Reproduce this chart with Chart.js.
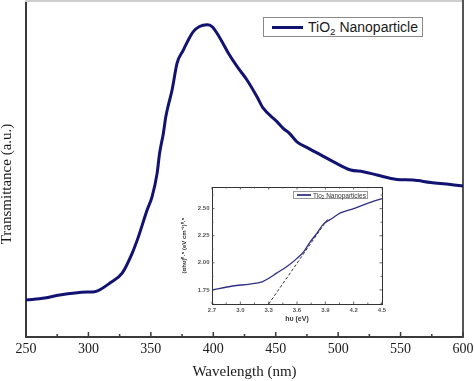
<!DOCTYPE html>
<html><head><meta charset="utf-8">
<script src="https://cdn.jsdelivr.net/npm/chart.js@4.4.0/dist/chart.umd.min.js"></script>
<style>
html,body{margin:0;padding:0;background:#fff;overflow:hidden;}
#wrap{position:relative;width:474px;height:381px;}
#main{position:absolute;left:0;top:0;}
#inset{position:absolute;left:178px;top:180px;}
.legend{position:absolute;background:#fff;box-sizing:border-box;display:flex;align-items:center;white-space:nowrap;}
.legend sub{font-size:70%;line-height:0;vertical-align:-0.3em;}
#mainLegend{left:263px;top:17px;width:160px;height:20px;border:1px solid #8a8a8a;font:14px "Liberation Sans",Arial,sans-serif;color:#1a1a1a;}
#mainLegend .sw{margin-left:8px;width:31px;height:3px;background:#121270;margin-right:5px;}
#insetLegend{left:293px;top:191px;width:75px;height:8px;border:1px solid #9a9a9a;font:6.5px "Liberation Sans",Arial,sans-serif;color:#333;}
#insetLegend .sw{margin-left:3px;width:14px;height:1.5px;background:#4a4a90;margin-right:2px;}
</style></head>
<body>
<div id="wrap">
<canvas id="main" width="474" height="381"></canvas>
<canvas id="inset" width="212" height="148"></canvas>
<div class="legend" id="mainLegend"><span class="sw"></span><span>TiO<sub>2</sub> Nanoparticle</span></div>
<div class="legend" id="insetLegend"><span class="sw"></span><span>Tio<sub>2</sub> Nanoparticles</span></div>
</div>
<script>
// ---- Main spectrum data ----
const wavelength = [250,265,277,299,305,317,327,335,340,347,351,355,357,360,362,364,367,371,376,380,384,389,395,399,403,407,413,420,427,435,440,451,456,461,467,476,486,496,510,520,531,547,560,574,590,600];
const transmittance = [11.0,11.6,12.5,13.4,13.5,16.0,19.0,24.9,29.8,37.8,41.8,48.7,54.7,60.6,65.6,69.0,73.5,81.5,85.4,88.4,90.9,92.4,92.9,92.4,90.4,87.9,83.9,80.0,76.5,71.5,68.1,64.1,62.1,60.6,58.1,56.2,54.2,52.2,49.7,49.2,48.2,46.9,46.7,46.0,45.4,44.9];
const xTicks = [250,300,350,400,450,500,550,600];
const xMinorTicks = [275,325,375,425,475,525,575];
const seriesName = 'TiO₂ Nanoparticle';
const yTitle = 'Transmittance (a.u.)';

// ---- Inset (Tauc plot) data ----
const hv = [2.70,2.92,3.10,3.23,3.31,3.38,3.49,3.60,3.67,3.74,3.81,3.88,3.97,4.06,4.20,4.34,4.50];
const ahv = [1.749,1.786,1.804,1.825,1.862,1.903,1.963,2.041,2.102,2.194,2.271,2.357,2.409,2.461,2.501,2.547,2.593];
const fitHv = [3.30,3.93];
const fitAhv = [1.62,2.41];
const insetXTicks = [2.7,3.0,3.3,3.6,3.9,4.2,4.5];
const insetXMinor = [2.85,3.15,3.45,3.75,4.05,4.35];
const insetYTicks = [1.75,2.00,2.25,2.50];
const insetYMinor = [1.625,1.875,2.125,2.375,2.625];
const insetName = 'Tio₂ Nanoparticles';

const serif = '"Liberation Serif","Times New Roman",serif';
const sans = '"Liberation Sans",Arial,sans-serif';

const inwardTicks = {
  id: 'inwardTicks',
  afterDraw(chart, args, o) {
    const ctx = chart.ctx, a = chart.chartArea;
    const xs = chart.scales.x, ys = chart.scales.y;
    ctx.save();
    ctx.strokeStyle = o.color; ctx.lineWidth = o.width;
    const draw = (vals, len, horiz) => {
      vals.forEach(v => {
        if (horiz) {
          const p = xs.getPixelForValue(v);
          if (o.sides.includes('bottom')) { ctx.beginPath(); ctx.moveTo(p, a.bottom); ctx.lineTo(p, a.bottom - len); ctx.stroke(); }
          if (o.sides.includes('top')) { ctx.beginPath(); ctx.moveTo(p, a.top); ctx.lineTo(p, a.top + len); ctx.stroke(); }
        } else {
          const p = ys.getPixelForValue(v);
          if (o.sides.includes('left')) { ctx.beginPath(); ctx.moveTo(a.left, p); ctx.lineTo(a.left + len, p); ctx.stroke(); }
          if (o.sides.includes('right')) { ctx.beginPath(); ctx.moveTo(a.right, p); ctx.lineTo(a.right - len, p); ctx.stroke(); }
        }
      });
    };
    draw(o.xMajor || [], o.majorLen, true);
    draw(o.xMinor || [], o.minorLen, true);
    draw(o.yMajor || [], o.majorLen, false);
    draw(o.yMinor || [], o.minorLen, false);
    if (o.yTitle) {
      ctx.fillStyle = o.yTitle.color;
      ctx.font = o.yTitle.font;
      ctx.textAlign = 'center'; ctx.textBaseline = 'middle';
      ctx.translate(o.yTitle.x, (a.top + a.bottom) / 2 + o.yTitle.shift);
      ctx.rotate(-Math.PI / 2);
      ctx.fillText(o.yTitle.text, 0, 0);
    }
    ctx.restore();
  }
};

const frameScale = (pos, color, w) => ({
  type: 'linear', position: pos, display: true,
  ticks: { display: false }, grid: { display: false, drawTicks: false },
  border: { display: true, color: color, width: w },
  afterFit: s => { if (pos === 'top') s.height = 0; else s.width = 0; }
});

new Chart(document.getElementById('main'), {
  type: 'line',
  data: { datasets: [{
    label: seriesName,
    data: wavelength.map((w, i) => ({ x: w, y: transmittance[i] })),
    borderColor: '#121270', borderWidth: 3, pointRadius: 0, cubicInterpolationMode: 'monotone', fill: false
  }]},
  options: {
    responsive: false, animation: false, devicePixelRatio: 1,
    layout: { padding: { left: 0, right: 11, top: 1, bottom: 0 } },
    plugins: { legend: { display: false }, tooltip: { enabled: false },
      inwardTicks: { color: '#3a3a3a', width: 1.5, majorLen: 5, minorLen: 3, sides: ['bottom'], xMajor: xTicks, xMinor: xMinorTicks,
        yTitle: { text: yTitle, font: '15px ' + serif, color: '#1a1a1a', x: 7, shift: 15 } } },
    scales: {
      x: { type: 'linear', position: 'bottom', min: 250, max: 600,
        afterBuildTicks: s => { s.ticks = xTicks.map(v => ({ value: v })); },
        afterFit: s => { s.height = 44; s.paddingLeft = 0; s.paddingRight = 0; },
        ticks: { font: { family: serif, size: 14 }, color: '#1a1a1a', padding: 4, maxRotation: 0, autoSkip: false },
        grid: { display: false, drawTicks: false },
        border: { display: true, color: '#3a3a3a', width: 2 },
        title: { display: true, text: 'Wavelength (nm)', color: '#1a1a1a', font: { family: serif, size: 15, lineHeight: 1 }, padding: { top: 0, bottom: 1 } } },
      y: { type: 'linear', position: 'left', min: 0, max: 100,
        ticks: { display: false }, grid: { display: false, drawTicks: false },
        border: { display: true, color: '#3a3a3a', width: 2 },
        afterFit: s => { s.width = 26; },
        title: { display: false } },
      x2: frameScale('top', '#cfcfcf', 2),
      y2: frameScale('right', '#555555', 2)
    }
  },
  plugins: [inwardTicks]
});

new Chart(document.getElementById('inset'), {
  type: 'line',
  data: { datasets: [
    { label: insetName, data: hv.map((x, i) => ({ x: x, y: ahv[i] })),
      borderColor: '#2e2e86', borderWidth: 1.3, pointRadius: 0, cubicInterpolationMode: 'monotone', fill: false },
    { label: 'linear fit', data: fitHv.map((x, i) => ({ x: x, y: fitAhv[i] })),
      borderColor: '#222222', borderWidth: 0.9, borderDash: [3, 2], pointRadius: 0, fill: false }
  ]},
  options: {
    responsive: false, animation: false, devicePixelRatio: 1,
    layout: { padding: { left: 0, right: 8, top: 7, bottom: 0 } },
    plugins: { legend: { display: false }, tooltip: { enabled: false },
      inwardTicks: { color: '#444', width: 0.8, majorLen: 2.5, minorLen: 1.5, sides: ['bottom','top','left','right'],
        xMajor: insetXTicks, xMinor: insetXMinor, yMajor: insetYTicks, yMinor: insetYMinor } },
    scales: {
      x: { type: 'linear', position: 'bottom', min: 2.7, max: 4.5,
        afterBuildTicks: s => { s.ticks = insetXTicks.map(v => ({ value: v })); },
        afterFit: s => { s.height = 24; s.paddingLeft = 0; s.paddingRight = 0; },
        ticks: { callback: v => v.toFixed(1), font: { family: sans, size: 6, weight: 'bold' }, color: '#555', padding: 3, maxRotation: 0, autoSkip: false },
        grid: { display: false, drawTicks: false },
        border: { display: true, color: '#333', width: 1 },
        title: { display: true, text: 'hυ (eV)', color: '#333', font: { family: sans, size: 7, weight: 'bold', lineHeight: 1 }, padding: { top: 0, bottom: 5 } } },
      y: { type: 'linear', position: 'left', min: 1.62, max: 2.70,
        afterBuildTicks: s => { s.ticks = insetYTicks.map(v => ({ value: v })); },
        afterFit: s => { s.width = 34; },
        ticks: { callback: v => v.toFixed(2), font: { family: sans, size: 6, weight: 'bold' }, color: '#555', padding: 2.5 },
        grid: { display: false, drawTicks: false },
        border: { display: true, color: '#333', width: 1 },
        title: { display: true, text: '(αhυ)⁰·⁵ (eV cm⁻¹)⁰·⁵', color: '#333', font: { family: sans, size: 6, weight: 'bold', lineHeight: 1 }, padding: { top: 3, bottom: 0 } } },
      x2: frameScale('top', '#333', 1),
      y2: frameScale('right', '#333', 1)
    }
  },
  plugins: [inwardTicks]
});
</script>
</body></html>
